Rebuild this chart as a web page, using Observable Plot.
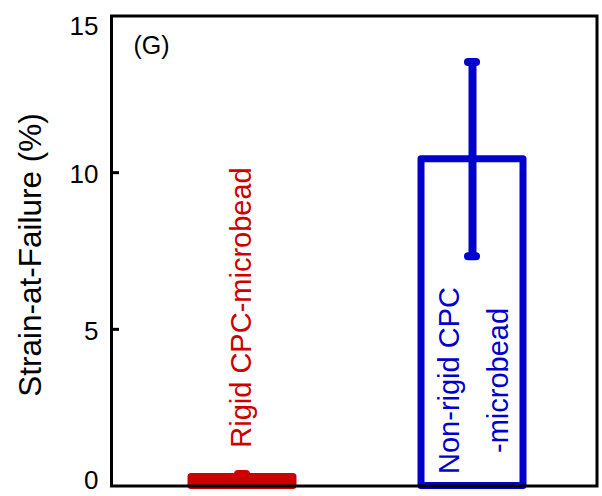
<!DOCTYPE html>
<html>
<head>
<meta charset="utf-8">
<script src="https://cdn.jsdelivr.net/npm/d3@7"></script>
<script src="https://cdn.jsdelivr.net/npm/@observablehq/plot@0.6"></script>
<style>
  html, body { margin: 0; padding: 0; background: #fff; }
  svg { font-family: "Liberation Sans", Arial, sans-serif; }
</style>
</head>
<body>
<div id="chart"></div>
<script>
const categories = ["Rigid CPC-microbead", "Non-rigid CPC-microbead"];
const means = [0.29, 10.43];
const errors = [0.09, 3.1];
const barLabels = ["Rigid CPC-microbead", "Non-rigid CPC\n-microbead"];
const yTicks = [0, 5, 10, 15];
const panelLabel = "(G)";
const yTitle = "Strain-at-Failure (%)";

const data = categories.map((c, i) => ({
  name: c, value: means[i], lo: means[i] - errors[i], hi: means[i] + errors[i], label: barLabels[i]
}));

const colorScale = {domain: categories, range: ["#cc0000", "#0000cc"]};

const chart = Plot.plot({
  width: 602,
  height: 496,
  marginLeft: 111,
  marginRight: 5.5,
  marginTop: 15.5,
  marginBottom: 10.5,
  style: {fontFamily: "'Liberation Sans', Arial, sans-serif", background: "#fff"},
  x: {domain: categories, paddingInner: 0.558, paddingOuter: 0.33, align: 0.518, axis: null},
  y: {domain: [0, 15], axis: null},
  color: colorScale,
  marks: [
    Plot.barY(data.slice(0, 1), {x: "name", y: "value", fill: "name", stroke: "name", strokeWidth: 7, strokeLinejoin: "round"}),
    Plot.barY(data.slice(1), {x: "name", y: "value", fill: "none", stroke: "name", strokeWidth: 7, strokeLinejoin: "round"}),
    Plot.ruleX(data, {x: "name", y1: "lo", y2: "hi", stroke: "name", strokeWidth: 8}),
    Plot.tickY(data, {x: "name", y: "hi", stroke: "name", strokeWidth: 8, strokeLinecap: "round", inset: 47}),
    Plot.tickY(data, {x: "name", y: "lo", stroke: "name", strokeWidth: 8, strokeLinecap: "round", inset: 47}),
    Plot.text(data.slice(0, 1), {x: "name", text: "label", frameAnchor: "bottom", rotate: -90, lineAnchor: "middle", textAnchor: "middle", dx: -1, dy: -178.5, fontSize: 29, fill: "name"}),
    Plot.text(data.slice(1), {x: "name", text: "label", frameAnchor: "bottom", rotate: -90, lineAnchor: "middle", textAnchor: "middle", lineHeight: 1.72, dx: -5, dy: -105.5, fontSize: 29, fill: "name"}),
    Plot.frame({stroke: "#000", strokeWidth: 3}),
    Plot.axisY({ticks: yTicks.slice(1, 3), tickSize: 8, dx: 8, strokeWidth: 3, tickFormat: () => "", stroke: "#000", label: null}),
    Plot.axisY({ticks: yTicks.slice(1, 3), tickSize: 0, tickPadding: 13, fontSize: 26, fill: "#000", dy: 2, label: null}),
    Plot.axisY({ticks: yTicks.slice(0, 1), tickSize: 0, tickPadding: 13, fontSize: 26, fill: "#000", dy: -5, label: null}),
    Plot.axisY({ticks: yTicks.slice(3), tickSize: 0, tickPadding: 13, fontSize: 26, fill: "#000", dy: 11, label: null}),
    Plot.text([panelLabel], {frameAnchor: "top-left", textAnchor: "start", lineAnchor: "middle", dx: 22, dy: 29.5, fontSize: 25, fill: "#000"}),
    Plot.text([yTitle], {frameAnchor: "left", rotate: -90, lineAnchor: "middle", textAnchor: "middle", dx: -81, dy: 4, fontSize: 31.5, fill: "#000"})
  ]
});
document.getElementById("chart").appendChild(chart);
</script>
</body>
</html>
